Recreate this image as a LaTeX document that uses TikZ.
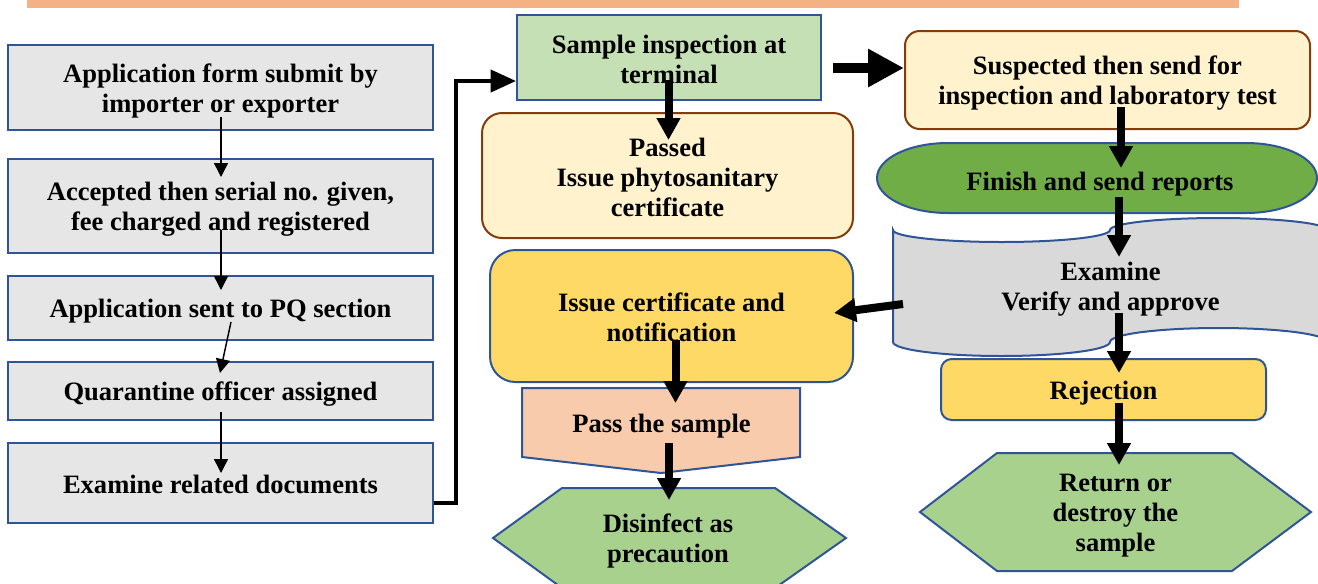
\documentclass[tikz,border=0pt]{standalone}
\usepackage{fontspec}
\setmainfont{Liberation Serif}
\usetikzlibrary{arrows.meta,calc}
\definecolor{bordblue}{HTML}{2F5597}
\definecolor{grayfill}{HTML}{E7E6E6}
\definecolor{lightgreen}{HTML}{C5E0B4}
\definecolor{cream}{HTML}{FFF2CC}
\definecolor{brownline}{HTML}{843C0C}
\definecolor{yellowfill}{HTML}{FFD966}
\definecolor{peach}{HTML}{F8CBAD}
\definecolor{hexgreen}{HTML}{A9D18E}
\definecolor{termgreen}{HTML}{70AD47}
\definecolor{docgray}{HTML}{D9D9D9}
\definecolor{banner}{HTML}{F4B183}
\newcommand{\wstrut}{\rule[-2.8pt]{0pt}{22pt}}
\newcommand{\diagfont}{\fontsize{19.9}{22.5}\selectfont\bfseries\lineskiplimit -30pt\relax}
\tikzset{
  boxbase/.style={inner sep=0pt, align=center, line width=1.5pt},
  shapeline/.style={line width=1.5pt},
  graybox/.style={boxbase, draw=bordblue, fill=grayfill, minimum width=318.75pt},
  greenbox/.style={boxbase, draw=bordblue, fill=lightgreen},
  creambox/.style={boxbase, draw=brownline, fill=cream},
  yellowbox/.style={boxbase, draw=bordblue, fill=yellowfill},
  txt/.style={inner sep=0pt, align=center},
  thinarr/.style={line width=1.1pt, -{Triangle[length=10.5pt,width=10.5pt]}},
  thickarr/.style={line width=6pt, -{Triangle[length=16.5pt,width=17pt]}},
  bigarr/.style={line width=8pt, -{Triangle[length=27pt,width=27pt]}},
  elbarr/.style={line width=3pt, -{Triangle[length=19pt,width=16.5pt]}}
}
\begin{document}
\begin{tikzpicture}[x=0.75pt,y=-0.75pt, font=\diagfont]
\useasboundingbox (0,0) rectangle (1318,583);
\clip (0,0) rectangle (1318,583);

% banner
\fill[banner] (27,-2) rectangle (1239,8);

% left column
\node[graybox, minimum height=63.75pt] (b1) at (220.5,87.5) {\wstrut Application form submit by\\\wstrut importer or exporter};
\node[graybox, minimum height=70.5pt] (b2) at (220.5,206) {\wstrut Accepted then serial no. given,\\\wstrut fee charged and registered};
\node[graybox, minimum height=48pt] (b3) at (220.5,308) {\wstrut Application sent to PQ section};
\node[graybox, minimum height=43.5pt] (b4) at (220.5,391) {\wstrut Quarantine officer assigned};
\node[graybox, minimum height=60pt] (b5) at (220.5,483) {\wstrut Examine related documents};

% middle column
\node[greenbox, minimum width=228pt, minimum height=63.75pt] (g) at (669,57.5) {\wstrut Sample inspection at\\\wstrut terminal};
\node[creambox, rounded corners=15pt, minimum width=278.25pt, minimum height=93.75pt] (p) at (667.5,175.5) {\wstrut Passed\\\wstrut Issue phytosanitary\\\wstrut certificate};
\node[yellowbox, rounded corners=19pt, minimum width=272.25pt, minimum height=99pt] (ic) at (671.5,316) {\wstrut Issue certificate and\\\wstrut notification};
\draw[shapeline, draw=bordblue, fill=peach] (522,388) -- (800,388) -- (800,457) -- (661,473) -- (522,457) -- cycle;
\node[txt] (pstxt) at (661.5,423) {\wstrut Pass the sample};
\draw[shapeline, draw=bordblue, fill=hexgreen] (493,538) -- (562,488) -- (775,488) -- (846,538) -- (775,588) -- (562,588) -- cycle;
\node[txt] (dhtxt) at (668,538) {\wstrut Disinfect as\\\wstrut precaution};

% right column
\node[creambox, rounded corners=11pt, minimum width=303.75pt, minimum height=73.5pt] (s) at (1107.5,80) {\wstrut Suspected then send for\\\wstrut inspection and laboratory test};
\draw[shapeline, draw=bordblue, fill=termgreen] (948,143) -- (1246,143)
  arc[start angle=270, end angle=450, x radius=71, y radius=35] -- (948,213)
  arc[start angle=90, end angle=270, x radius=71, y radius=35] -- cycle;
\node[txt] (ftxt) at (1100,181) {\wstrut Finish and send reports};
\draw[shapeline, draw=bordblue, fill=docgray] (893,230)
  arc[start angle=180, end angle=0, x radius=108.5, y radius=12]
  arc[start angle=180, end angle=360, x radius=108.5, y radius=12] -- (1327,342)
  arc[start angle=0, end angle=-180, x radius=108.5, y radius=14]
  arc[start angle=0, end angle=180, x radius=108.5, y radius=14] -- cycle;
\node[txt] (dtxt) at (1110.5,286) {\wstrut Examine\\\wstrut Verify and approve};
\node[yellowbox, rounded corners=8pt, minimum width=243.75pt, minimum height=45.75pt] (r) at (1103.5,389.5) {\wstrut Rejection};
\draw[shapeline, draw=bordblue, fill=hexgreen] (920,512) -- (997,453) -- (1232,453) -- (1311,512) -- (1232,571) -- (997,571) -- cycle;
\node[txt] (rhtxt) at (1115.5,512) {\wstrut Return or\\\wstrut destroy the\\\wstrut sample};

% left column arrows
\draw[thinarr] ($(b1.center)+(0.5,29.5)$) -- ($(b2.center)+(0.5,-29)$);
\draw[thinarr] ($(b2.center)+(0.5,24)$) -- ($(b3.center)+(0.5,-18)$);
\draw[thinarr] ($(b3.center)+(10.5,14)$) -- ($(b4.center)+(-0.5,-18)$);
\draw[thinarr] ($(b4.center)+(0.5,21)$) -- ($(b5.center)+(0.5,-10)$);
\coordinate (elbow) at (456,81);
\draw[elbarr] ($(b5.east)+(0,20)$) -| (elbow) -- ($(g.west)+(0,23.5)$);

% middle arrows
\draw[thickarr] ($(g.center)+(-0.5,22.5)$) -- ($(p.center)+(1,-35.5)$);
\draw[bigarr] ($(g.east)+(11,10.5)$) -- ($(s.west)+(0,-12)$);
\draw[thickarr] ($(ic.center)+(4,24)$) -- ($(pstxt.center)+(14,-20)$);
\draw[thickarr] ($(pstxt.center)+(7.5,20)$) -- ($(dhtxt.center)+(1,-38)$);

% right arrows
\draw[thickarr] ($(s.center)+(13.5,27)$) -- ($(ftxt.center)+(21,-13)$);
\draw[thickarr] ($(ftxt.center)+(19,16)$) -- ($(dtxt.center)+(8.5,-29)$);
\draw[thickarr] ($(dtxt.center)+(-207.5,18)$) -- ($(ic.east)+(-20,-3)$);
\draw[thickarr] ($(dtxt.center)+(8.5,27)$) -- ($(r.center)+(15.5,-16.5)$);
\draw[thickarr] ($(r.center)+(15.5,13.5)$) -- ($(rhtxt.center)+(3.5,-47)$);
\end{tikzpicture}
\end{document}
